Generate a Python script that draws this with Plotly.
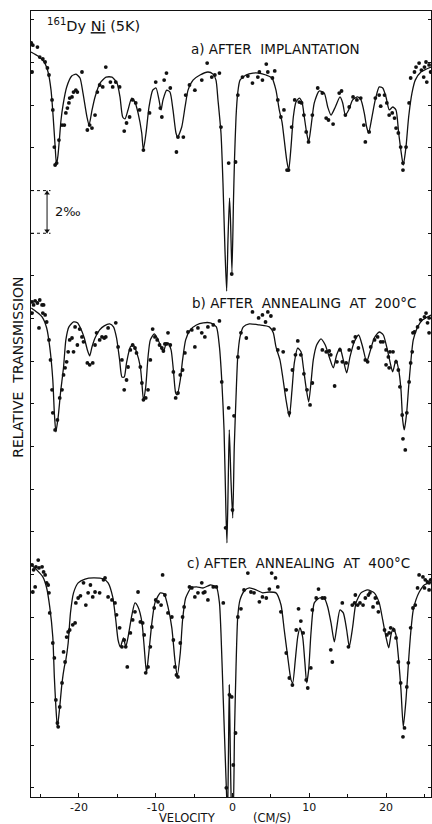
import plotly.graph_objects as go

# ---------------- DATA (velocity in cm/s, relative transmission in per mille) ----------------
# a) after implantation
a_fit_v = [-26.24,-25.33,-24.54,-24.02,-23.63,-23.37,-23.11,-22.92,-22.72,-22.55,-22.33,-22.07,-21.59,-20.94,-20.38,-19.86,-19.47,-18.95,-18.68,-18.29,-17.90,-17.25,-16.47,-15.69,-15.04,-14.65,-14.30,-14.00,-13.61,-13.13,-12.70,-12.30,-11.82,-11.61,-11.26,-10.87,-10.39,-9.96,-9.57,-9.31,-9.05,-8.57,-8.14,-7.75,-7.36,-7.14,-6.61,-6.18,-5.79,-5.14,-4.23,-3.19,-2.54,-2.15,-1.89,-1.50,-1.24,-0.98,-0.76,-0.59,-0.39,-0.26,-0.07,0.13,0.26,0.46,0.68,0.98,1.76,2.67,3.45,4.36,5.14,5.66,6.09,6.45,6.74,7.06,7.32,7.62,7.92,8.27,8.70,9.05,9.35,9.66,9.92,10.22,10.65,11.30,11.95,12.40,12.83,13.39,14.00,14.35,14.69,15.13,15.65,16.30,16.73,17.16,17.47,17.73,18.16,18.59,19.11,19.56,19.99,20.42,20.86,21.29,21.64,21.98,22.24,22.59,22.94,23.37,23.80,24.54,25.85]
a_fit_t = [-0.09,-0.28,-0.56,-1.03,-1.88,-3.05,-4.45,-5.39,-4.92,-4.22,-3.28,-2.58,-1.73,-1.22,-1.13,-1.31,-2.02,-3.14,-3.52,-2.81,-2.20,-1.55,-1.27,-1.27,-1.55,-2.20,-3.14,-3.23,-2.81,-2.25,-2.44,-2.95,-3.89,-4.69,-3.89,-2.67,-1.88,-1.78,-2.34,-2.81,-2.34,-1.88,-1.97,-2.81,-3.89,-4.08,-3.61,-2.67,-1.88,-1.41,-1.17,-1.03,-1.13,-1.41,-2.34,-3.89,-6.24,-9.38,-11.30,-8.91,-6.94,-7.97,-10.41,-7.03,-5.16,-3.14,-2.02,-1.41,-1.17,-1.08,-1.08,-1.17,-1.31,-1.88,-2.81,-3.38,-4.22,-5.16,-5.63,-4.55,-3.14,-2.44,-2.25,-2.44,-3.14,-3.89,-4.31,-3.61,-2.48,-1.92,-2.02,-2.67,-3.05,-2.67,-2.20,-2.48,-3.05,-2.81,-2.34,-2.20,-2.34,-2.95,-3.61,-3.89,-3.14,-2.34,-1.73,-1.78,-2.20,-2.81,-2.67,-2.81,-3.89,-4.83,-5.39,-4.55,-3.14,-2.02,-1.41,-1.03,-0.80]
a_pts_v = [-26.2,-26.0,-25.4,-25.1,-24.7,-24.4,-26.1,-24.1,-23.9,-23.5,-23.4,-23.2,-23.1,-22.9,-22.6,-22.2,-21.9,-21.7,-21.5,-21.3,-21.2,-20.9,-20.7,-20.4,-20.2,-19.6,-18.9,-18.6,-18.3,-17.9,-17.6,-17.3,-16.9,-16.5,-15.9,-15.6,-15.2,-14.7,-14.1,-13.8,-13.4,-13.0,-12.6,-12.1,-11.6,-10.8,-10.0,-9.4,-9.2,-8.9,-8.6,-8.1,-7.3,-7.1,-6.4,-6.1,-5.6,-4.9,-4.0,-3.3,-2.7,-2.3,-1.7,-1.5,-0.5,0.4,-0.1,0.7,1.3,2.0,2.6,3.3,3.5,3.9,4.4,4.6,5.2,5.5,5.9,6.3,6.7,7.1,7.3,7.7,8.1,8.7,9.0,9.3,9.6,9.9,10.4,11.1,11.7,12.2,12.5,13.1,13.9,14.2,14.7,15.2,15.7,16.2,16.7,17.1,17.3,17.8,18.6,19.1,19.3,19.8,20.1,20.4,20.8,21.1,21.3,21.6,21.9,22.2,22.2,22.6,23.0,23.2,23.7,23.9,24.3,24.6,25.0,25.2,25.6,25.3,24.9,25.8]
a_pts_t = [0.33,0.23,0.14,-0.33,-0.42,-0.56,-1.03,-0.84,-1.17,-2.34,-2.81,-4.55,-5.39,-5.30,-4.22,-3.52,-3.52,-2.95,-2.72,-2.48,-2.25,-2.20,-1.97,-1.88,-1.97,-1.03,-3.75,-3.52,-3.66,-3.05,-1.97,-1.64,-1.73,-0.80,-1.50,-1.73,-1.50,-1.73,-3.80,-3.42,-3.14,-2.34,-2.48,-2.81,-4.69,-2.95,-1.50,-2.72,-3.14,-1.41,-1.08,-1.78,-4.78,-4.08,-4.08,-2.11,-1.64,-1.88,-1.41,-0.61,-1.27,-1.17,-1.08,-3.61,-5.30,-5.25,-10.50,-2.11,-1.27,-1.22,-1.55,-1.27,-1.03,-1.41,-0.66,-1.03,-1.31,-0.98,-2.34,-3.14,-2.81,-5.63,-5.63,-3.61,-2.34,-2.44,-2.48,-3.05,-3.84,-4.31,-3.05,-1.78,-2.02,-3.19,-3.28,-3.47,-2.02,-1.92,-3.05,-2.67,-2.20,-2.34,-2.25,-3.52,-4.31,-3.84,-2.25,-2.11,-2.63,-2.11,-2.48,-3.05,-2.95,-3.19,-3.66,-3.89,-4.55,-5.30,-5.63,-4.55,-2.48,-1.31,-1.03,-0.80,-0.61,-0.94,-0.80,-0.56,-0.70,-1.50,-1.27,-1.03]

# b) after annealing at 200 C
b_fit_v = [-26.2,-25.5,-24.8,-24.2,-23.8,-23.4,-23.2,-23.0,-22.7,-22.4,-22.0,-21.7,-21.3,-20.7,-20.2,-19.8,-19.3,-18.9,-18.6,-18.3,-17.9,-17.3,-16.7,-16.0,-15.5,-15.1,-14.7,-14.4,-14.1,-13.8,-13.3,-12.9,-12.5,-12.0,-11.8,-11.6,-11.3,-11.0,-10.7,-10.2,-9.8,-9.3,-9.0,-8.7,-8.4,-8.0,-7.7,-7.4,-7.2,-6.8,-6.5,-6.1,-5.5,-4.7,-3.8,-2.9,-2.1,-1.7,-1.4,-1.1,-0.85,-0.72,-0.55,-0.42,-0.20,0.03,0.23,0.46,0.68,0.98,1.41,2.19,3.49,4.79,5.31,5.66,6.18,6.54,6.97,7.40,7.75,8.05,8.49,8.92,9.22,9.57,9.92,10.22,10.52,10.96,11.52,12.08,12.60,13.13,13.57,14.00,14.43,14.87,15.30,15.86,16.43,16.95,17.47,17.90,18.46,19.11,19.64,20.08,20.51,20.86,21.29,21.64,21.94,22.16,22.37,22.68,22.94,23.24,23.54,24.11,24.77,25.85]
b_fit_t = [-0.14,-0.33,-0.56,-1.08,-1.97,-3.52,-5.06,-5.95,-5.25,-4.13,-2.91,-1.64,-1.03,-0.80,-0.84,-1.08,-1.55,-2.11,-2.39,-1.97,-1.55,-1.17,-0.98,-0.89,-1.03,-1.55,-2.58,-3.38,-3.38,-2.72,-1.97,-1.88,-2.20,-2.91,-3.66,-4.45,-3.84,-2.44,-1.64,-1.36,-1.55,-1.97,-2.20,-1.88,-1.78,-2.11,-3.05,-4.13,-4.22,-3.52,-2.58,-1.64,-1.17,-0.94,-0.84,-0.84,-1.03,-1.97,-3.52,-5.86,-9.75,-11.16,-8.20,-5.86,-8.20,-9.99,-6.66,-4.31,-2.44,-1.50,-1.03,-0.89,-0.94,-1.03,-1.31,-1.97,-2.58,-3.38,-4.45,-5.25,-3.98,-2.72,-2.02,-2.20,-2.91,-3.84,-4.55,-3.66,-2.58,-1.88,-1.59,-1.88,-2.44,-2.95,-2.34,-2.02,-2.58,-3.19,-2.44,-1.73,-1.41,-1.97,-2.67,-2.20,-1.55,-1.27,-1.41,-1.97,-2.67,-3.14,-2.58,-3.05,-3.98,-5.39,-5.86,-5.06,-3.84,-2.58,-1.64,-1.03,-0.70,-0.47]
b_pts_v = [-26.1,-25.9,-25.7,-25.4,-25.1,-24.8,-24.6,-26.1,-24.7,-24.4,-24.2,-25.2,-23.9,-23.7,-23.5,-23.4,-23.1,-22.8,-22.5,-22.2,-22.0,-21.8,-21.6,-21.4,-21.2,-20.9,-20.7,-20.5,-20.2,-19.9,-19.6,-19.4,-18.9,-18.6,-18.2,-17.9,-17.7,-17.3,-17.0,-16.7,-16.5,-16.2,-15.2,-14.9,-14.4,-14.1,-13.8,-13.6,-13.3,-13.0,-12.7,-12.5,-12.0,-11.8,-11.6,-11.3,-11.0,-10.7,-10.4,-10.1,-9.8,-9.5,-9.2,-9.0,-8.8,-8.6,-8.4,-8.1,-7.7,-7.4,-7.1,-6.8,-6.5,-6.2,-5.8,-5.3,-4.9,-4.5,-4.0,-3.6,-3.2,-2.5,-1.7,-1.4,-0.5,-0.9,0.0,0.2,0.7,1.1,1.8,2.6,3.4,3.9,4.3,4.6,5.0,5.4,5.9,6.6,7.0,7.4,7.8,8.2,8.5,8.9,9.3,9.7,10.1,10.4,11.7,12.2,12.6,12.8,13.3,13.6,14.0,14.3,14.8,15.2,15.7,16.0,16.4,17.3,17.6,18.0,18.5,18.9,19.3,19.6,20.0,20.3,20.5,20.9,20.0,20.4,21.3,21.6,21.8,22.1,22.2,22.5,22.7,23.0,23.2,23.4,23.5,23.7,24.1,24.5,25.0,25.4,25.6,25.2,25.6]
b_pts_t = [0.14,0.00,0.19,0.09,0.23,0.00,0.00,-0.38,-0.38,-0.47,-0.80,-1.08,-1.64,-2.58,-3.98,-5.06,-5.86,-5.39,-4.36,-3.98,-3.28,-2.95,-2.67,-2.20,-1.64,-1.55,-2.20,-1.03,-1.88,-1.13,-1.50,-1.73,-2.72,-2.81,-2.72,-1.88,-1.31,-1.64,-1.50,-1.55,-1.50,-1.08,-0.84,-1.97,-2.58,-3.98,-3.52,-2.91,-2.11,-1.88,-2.02,-2.25,-2.91,-3.66,-4.45,-4.36,-3.98,-2.58,-1.13,-1.50,-1.64,-1.88,-2.02,-2.16,-1.83,-1.83,-1.31,-1.88,-3.14,-4.36,-4.13,-3.28,-3.05,-2.25,-1.27,-1.17,-1.97,-1.08,-1.31,-1.50,-1.03,-0.94,-0.75,-3.61,-4.83,-10.45,-9.61,-5.20,-2.44,-1.31,-1.55,-0.33,-0.61,-0.47,-0.80,-0.33,-0.52,-1.13,-2.11,-2.20,-3.98,-5.06,-3.05,-2.34,-1.69,-2.34,-3.23,-3.98,-4.69,-3.66,-2.11,-2.20,-2.16,-2.34,-3.80,-2.67,-2.11,-2.67,-2.72,-2.11,-1.73,-1.50,-2.02,-2.58,-2.67,-1.97,-1.64,-1.50,-1.73,-1.73,-2.11,-2.44,-2.20,-2.20,-2.81,-2.95,-2.67,-3.05,-3.84,-5.16,-6.28,-6.80,-5.06,-3.61,-2.72,-2.20,-1.31,-1.27,-1.03,-0.70,-0.56,-0.84,-1.31,-0.38,-0.61]

# c) after annealing at 400 C
c_fit_v = [-26.2,-25.5,-24.7,-24.2,-23.8,-23.4,-23.2,-23.0,-22.8,-22.5,-22.2,-21.9,-21.7,-21.4,-21.1,-20.7,-20.1,-19.2,-18.1,-16.8,-16.2,-15.6,-15.2,-14.9,-14.6,-14.2,-13.9,-13.6,-13.1,-12.7,-12.3,-11.8,-11.5,-11.2,-10.9,-10.5,-10.1,-9.4,-8.9,-8.4,-7.9,-7.5,-7.2,-6.8,-6.5,-6.1,-5.4,-4.7,-3.8,-2.9,-2.1,-1.7,-1.5,-1.2,-0.9,-0.76,-0.65,-0.52,-0.42,-0.29,-0.13,0.07,0.26,0.46,0.68,0.98,1.54,2.19,3.06,3.93,4.79,5.66,6.32,6.74,7.19,7.62,7.84,8.18,8.49,8.79,9.14,9.40,9.66,9.92,10.22,10.65,11.30,11.95,12.40,12.83,13.26,13.57,14.00,14.43,14.87,15.21,15.65,16.08,16.73,17.60,18.46,19.11,19.56,19.99,20.34,20.64,20.94,21.29,21.64,21.94,22.24,22.59,22.94,23.24,23.54,23.89,24.32,24.97,25.85]
c_fit_t = [0.00,-0.23,-0.56,-1.08,-1.97,-3.38,-5.25,-6.66,-7.59,-6.66,-5.53,-4.78,-4.45,-3.66,-2.25,-1.31,-0.84,-0.66,-0.61,-0.66,-0.84,-1.50,-2.58,-3.52,-3.84,-3.42,-3.84,-3.38,-2.34,-1.78,-1.97,-2.67,-3.84,-5.06,-4.13,-2.72,-1.78,-1.31,-1.36,-1.97,-2.95,-4.45,-5.20,-4.13,-2.58,-1.55,-1.08,-1.03,-1.08,-0.94,-1.03,-1.78,-3.19,-6.33,-9.47,-10.88,-11.95,-8.67,-5.63,-8.67,-11.40,-11.95,-7.88,-4.78,-2.44,-1.64,-1.22,-1.08,-1.17,-1.31,-1.27,-1.31,-1.88,-3.05,-4.31,-5.39,-5.53,-4.45,-3.38,-2.95,-3.38,-4.45,-5.53,-4.92,-3.19,-1.78,-1.55,-1.55,-1.97,-2.72,-3.61,-2.95,-2.11,-2.25,-3.05,-3.84,-2.91,-1.78,-1.31,-1.17,-1.31,-1.78,-2.58,-3.38,-3.89,-3.28,-2.95,-3.28,-4.45,-5.86,-7.59,-6.33,-4.45,-3.05,-2.11,-1.64,-1.27,-0.94,-0.80]
c_pts_v = [-26.1,-25.9,-25.6,-25.3,-25.2,-24.8,-24.6,-24.4,-26.0,-25.7,-24.2,-24.0,-23.9,-23.8,-23.4,-23.2,-23.0,-22.8,-22.7,-22.5,-22.2,-22.0,-21.8,-21.6,-21.4,-21.2,-20.8,-20.5,-20.4,-20.1,-19.8,-19.4,-19.1,-18.8,-18.5,-18.2,-17.9,-17.3,-16.8,-16.6,-16.2,-15.7,-15.3,-15.1,-14.7,-14.4,-14.1,-13.9,-13.7,-13.3,-13.0,-12.7,-12.3,-12.0,-11.7,-11.5,-11.3,-11.0,-10.7,-10.5,-10.2,-10.0,-9.7,-9.3,-9.1,-8.8,-8.4,-7.9,-7.7,-7.5,-7.3,-7.1,-6.8,-6.5,-6.3,-5.6,-5.3,-4.9,-4.5,-4.0,-3.8,-3.6,-3.2,-2.5,-2.1,-1.2,-0.4,-0.1,0.4,-0.8,0.1,0.7,1.1,1.5,2.0,2.4,2.8,3.5,3.9,4.4,4.8,5.1,5.6,5.9,6.3,7.0,7.4,7.8,8.3,8.6,8.9,9.2,9.6,9.8,10.2,10.4,10.9,11.2,11.7,12.0,12.8,13.0,14.3,15.1,15.6,15.9,16.0,16.3,16.6,17.0,17.3,17.7,17.9,18.3,18.6,18.9,19.0,19.8,20.1,20.4,20.6,21.0,21.3,21.6,21.9,22.2,22.4,22.7,22.9,23.2,23.5,23.8,24.1,24.3,24.8,25.1,25.4,25.6,25.0,25.6,25.8]
c_pts_t = [0.00,-0.23,-0.09,0.23,-0.14,-0.09,-0.33,-0.47,-1.27,-1.03,-0.84,-0.94,-1.31,-2.25,-3.66,-4.36,-6.33,-7.41,-7.59,-6.66,-5.53,-4.08,-4.55,-3.38,-3.14,-3.05,-2.81,-2.72,-1.78,-1.55,-1.45,-0.84,-1.88,-1.31,-0.94,-1.50,-1.27,-1.31,-0.70,-0.61,-1.50,-1.64,-1.78,-2.34,-2.95,-3.84,-3.52,-3.84,-4.78,-3.19,-2.58,-2.20,-1.27,-2.67,-2.72,-3.28,-5.06,-4.78,-3.84,-2.91,-2.02,-1.64,-1.73,-1.88,-0.47,-1.41,-2.25,-2.44,-3.52,-4.78,-5.16,-5.25,-3.66,-2.44,-1.97,-1.03,-1.08,-1.50,-1.31,-0.84,-1.31,-1.27,-1.64,-1.03,-1.03,-1.78,-6.09,-6.19,-7.88,-10.45,-9.38,-2.44,-2.06,-1.17,-0.38,-1.27,-1.31,-1.73,-1.50,-1.55,-1.13,-0.38,-0.61,-1.03,-2.20,-4.13,-5.30,-5.63,-3.05,-2.06,-2.63,-3.19,-5.39,-5.77,-4.83,-2.11,-1.55,-1.13,-1.55,-1.55,-3.98,-4.55,-1.78,-3.84,-1.88,-1.78,-1.41,-1.88,-1.78,-1.88,-1.55,-1.41,-1.31,-1.97,-1.55,-1.78,-2.20,-3.05,-3.28,-3.19,-2.95,-3.05,-3.42,-4.55,-5.53,-8.06,-7.64,-5.72,-4.59,-2.95,-2.02,-1.88,-1.08,-0.47,-0.56,-0.70,-0.80,-0.84,-1.08,-1.17,-0.70]

x_tick_vals = [-20, -10, 0, 10, 20]
x_tick_text = ["-20", "-10", "0", "10", "20"]

spectra = [
    ("a", a_fit_v, a_fit_t, a_pts_v, a_pts_t),
    ("b", b_fit_v, b_fit_t, b_pts_v, b_pts_t),
    ("c", c_fit_v, c_fit_t, c_pts_v, c_pts_t),
]
for name, fv, ft, pv, pt in spectra:
    assert len(fv) == len(ft), (name, "fit", len(fv), len(ft))
    assert len(pv) == len(pt), (name, "pts", len(pv), len(pt))

# ---------------- LAYOUT CONSTANTS ----------------
OFFSET = {"a": -1.83, "b": -13.78, "c": -25.97}   # vertical stacking of spectra (per mille)
X_RANGE = [-26.24, 25.85]
Y_RANGE = [-36.85, 0.0]
FONT = "DejaVu Sans"
INK = "#111111"

fig = go.Figure()
for name, fv, ft, pv, pt in spectra:
    off = OFFSET[name]
    fig.add_trace(go.Scatter(
        x=fv, y=[t + off for t in ft], mode="lines",
        line=dict(color=INK, width=1.3, shape="spline", smoothing=0.6),
        hoverinfo="skip", showlegend=False))
    fig.add_trace(go.Scatter(
        x=pv, y=[t + off for t in pt], mode="markers",
        marker=dict(color=INK, size=3.8), hoverinfo="skip", showlegend=False))

# 2 per-mille scale bar
bar_x = -24.15
bar_top, bar_bot = -8.42, -10.42
for yy in (bar_top, bar_bot):
    fig.add_shape(type="line", x0=X_RANGE[0], x1=-23.7, y0=yy, y1=yy,
                  line=dict(color=INK, width=1, dash="dot"))
fig.add_shape(type="line", x0=bar_x, x1=bar_x, y0=bar_top, y1=bar_bot,
              line=dict(color=INK, width=1))
fig.add_trace(go.Scatter(x=[bar_x, bar_x], y=[bar_top - 0.12, bar_bot + 0.12], mode="markers",
                         marker=dict(symbol=["triangle-up", "triangle-down"], size=5, color=INK),
                         hoverinfo="skip", showlegend=False))

ann = [
    dict(x=-24.4, y=-0.66, text="<sup>161</sup>Dy <u>Ni</u> (5K)", size=14.5),
    dict(x=-5.66, y=-1.78, text="a) AFTER  IMPLANTATION", size=13.5),
    dict(x=-5.53, y=-13.69, text="b) AFTER  ANNEALING  AT  200°C", size=13.5),
    dict(x=-6.18, y=-25.88, text="c) AFTER  ANNEALING  AT  400°C", size=13.5),
    dict(x=-23.4, y=-9.42, text="2‰", size=13),
]
for a in ann:
    fig.add_annotation(x=a["x"], y=a["y"], xref="x", yref="y", text=a["text"],
                       xanchor="left", yanchor="middle", showarrow=False,
                       font=dict(family=FONT, size=a["size"], color=INK))

fig.add_annotation(x=-0.0325, y=0.546, xref="paper", yref="paper", text="RELATIVE  TRANSMISSION",
                   textangle=-90, showarrow=False, xanchor="center", yanchor="middle",
                   font=dict(family=FONT, size=14, color=INK))
fig.add_annotation(x=0.39, y=-0.0268, xref="paper", yref="paper", text="VELOCITY",
                   showarrow=False, xanchor="center", yanchor="middle",
                   font=dict(family=FONT, size=11.5, color=INK))
fig.add_annotation(x=0.6025, y=-0.0268, xref="paper", yref="paper", text="(CM/S)",
                   showarrow=False, xanchor="center", yanchor="middle",
                   font=dict(family=FONT, size=11.5, color=INK))

fig.update_layout(
    width=432, height=824,
    margin=dict(l=31, r=1, t=11, b=27, autoexpand=False),
    paper_bgcolor="white", plot_bgcolor="white",
    showlegend=False,
    font=dict(family=FONT, color=INK),
)
fig.update_xaxes(range=X_RANGE, showgrid=False, zeroline=False, automargin=False,
                 showline=True, linecolor=INK, linewidth=1.2, mirror=True,
                 tickmode="array", tickvals=x_tick_vals, ticktext=x_tick_text,
                 ticks="inside", ticklen=4, tickcolor=INK, tickwidth=1,
                 minor=dict(ticks="inside", ticklen=3, tickcolor=INK, tickwidth=1, dtick=5, tick0=0),
                 tickfont=dict(family=FONT, size=11, color=INK))
fig.update_yaxes(range=Y_RANGE, showgrid=False, zeroline=False, automargin=False,
                 showline=True, linecolor=INK, linewidth=1.2, mirror="ticks",
                 ticks="inside", ticklen=3, tickcolor=INK, tickwidth=0.8,
                 tick0=-0.42, dtick=2, showticklabels=False)

fig.write_html("out.html", config={"displayModeBar": False},
               post_script="document.body.style.margin='0';")
